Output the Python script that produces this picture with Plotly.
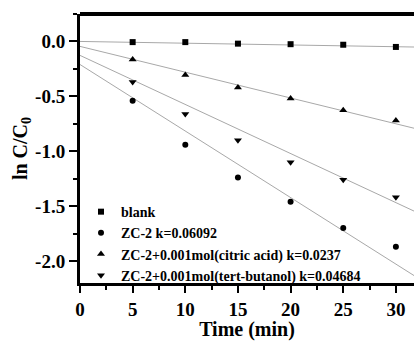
import plotly.graph_objects as go

time = [5, 10, 15, 20, 25, 30]
blank = [-0.006, -0.006, -0.02, -0.025, -0.03, -0.05]
zc2 = [-0.54, -0.94, -1.24, -1.46, -1.70, -1.87]
citric = [-0.164, -0.306, -0.42, -0.52, -0.627, -0.72]
tert = [-0.37, -0.66, -0.90, -1.10, -1.26, -1.42]

# fitted lines: (intercept, slope)
fit_blank = (0.0, -0.0016)
fit_zc2 = (-0.21, -0.0606)
fit_citric = (-0.045, -0.0235)
fit_tert = (-0.127, -0.0447)

names = ["blank", "ZC-2 k=0.06092", "ZC-2+0.001mol(citric acid) k=0.0237",
         "ZC-2+0.001mol(tert-butanol) k=0.04684"]
symbols = ["square", "circle", "triangle-up", "triangle-down"]
sizes = [6, 6, 7, 7]

X_MAX = 31.72
fit_x = [0, X_MAX]

font_family = "Liberation Serif"
fig = go.Figure()
for (b, m) in [fit_blank, fit_zc2, fit_citric, fit_tert]:
    fig.add_trace(go.Scatter(x=fit_x, y=[b + m * xx for xx in fit_x], mode="lines",
                             line=dict(color="#a8a8a8", width=1), showlegend=False,
                             hoverinfo="skip"))
for data, name, sym, sz in zip([blank, zc2, citric, tert], names, symbols, sizes):
    fig.add_trace(go.Scatter(x=time, y=data, mode="markers", name="<b>" + name + "</b>",
                             marker=dict(symbol=sym, size=sz, color="black")))

yvals = [0.0, -0.5, -1.0, -1.5, -2.0]
ytext = ["0.0", "-0.5", "-1.0", "-1.5", "-2.0"]
xvals = [0, 5, 10, 15, 20, 25, 30]

fig.update_layout(
    width=414, height=341,
    margin=dict(l=80, r=0, t=14, b=58),
    plot_bgcolor="white", paper_bgcolor="white",
    font=dict(family=font_family, color="black"),
    xaxis=dict(range=[0, X_MAX], tickvals=xvals, ticktext=["<b>%d</b>" % v for v in xvals],
               showgrid=False, zeroline=False, showline=True, linecolor="black",
               linewidth=3, ticks="outside", ticklen=7, tickwidth=2, tickcolor="black",
               tickfont=dict(size=19, family=font_family),
               minor=dict(tickvals=[2.5, 7.5, 12.5, 17.5, 22.5, 27.5], ticks="outside",
                          ticklen=4, tickwidth=2, tickcolor="black"),
               title=dict(text="<b>Time (min)</b>", font=dict(size=20, family=font_family),
                          standoff=5)),
    yaxis=dict(range=[-2.2, 0.25], tickvals=yvals, ticktext=["<b>%s</b>" % t for t in ytext],
               showgrid=False, zeroline=False, showline=True, linecolor="black",
               linewidth=3, ticks="outside", ticklen=8, tickwidth=2, tickcolor="black",
               tickfont=dict(size=19, family=font_family),
               minor=dict(tickvals=[0.25, -0.25, -0.75, -1.25, -1.75], ticks="outside",
                          ticklen=4, tickwidth=2, tickcolor="black"),
               title=dict(text="<b>ln C/C<sub>0</sub></b>", font=dict(size=20, family=font_family),
                          standoff=3)),
    legend=dict(x=0.003, y=-0.03, xanchor="left", yanchor="bottom",
                bgcolor="rgba(0,0,0,0)", font=dict(size=14, family=font_family),
                tracegroupgap=0, itemsizing="trace"),
    shapes=[dict(type="line", xref="paper", yref="paper", x0=0, x1=1, y0=1, y1=1,
                 line=dict(color="black", width=4), layer="above")],
)

fig.write_html("out.html")
